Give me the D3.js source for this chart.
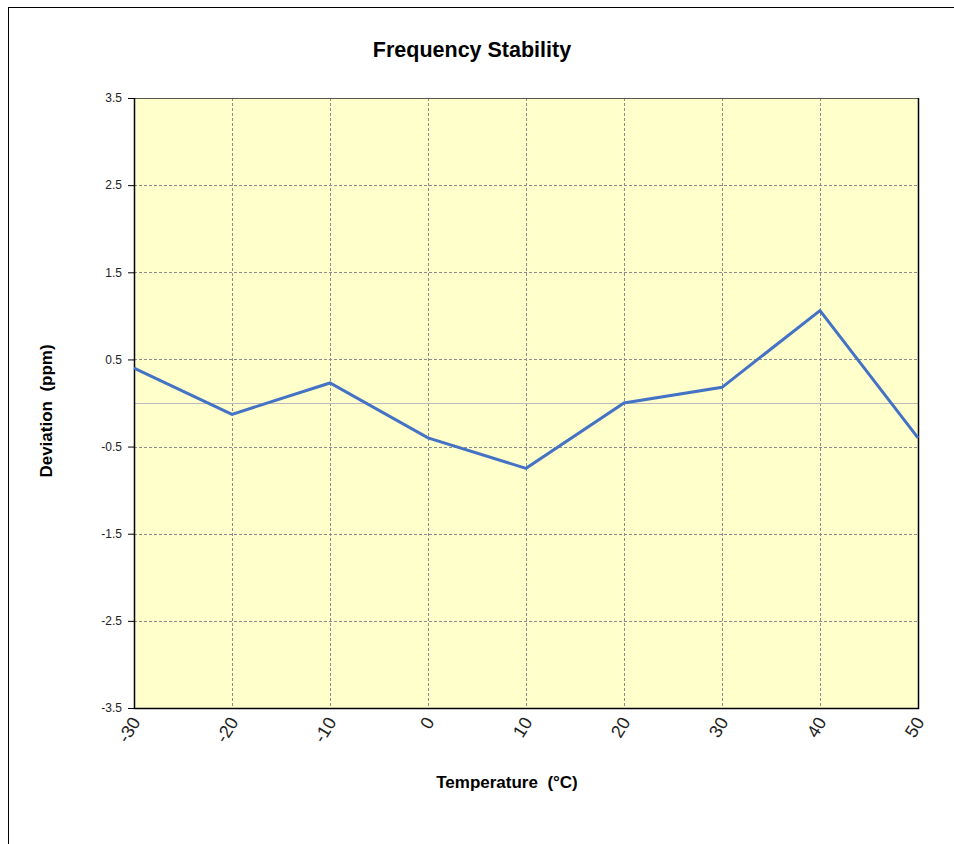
<!DOCTYPE html>
<html lang="en">
<head>
  <meta charset="UTF-8">
  <title>Frequency Stability</title>
  <script src="https://d3js.org/d3.v7.min.js"></script>
  <style>
    body { margin: 0; background: #fff; font-family: "Liberation Sans", Arial, sans-serif; }
    text { white-space: pre; }
  </style>
</head>
<body>
  <svg width="954" height="844"></svg>
  <script>
    // temperature points (°C) and measured deviation (ppm)
    const temps = [-30, -20, -10, 0, 10, 20, 30, 40, 50];
    const deviation = [0.40, -0.13, 0.23, -0.40, -0.75, 0.0, 0.18, 1.06, -0.40];
    const yTicks = [-3.5, -2.5, -1.5, -0.5, 0.5, 1.5, 2.5, 3.5];

    const svg = d3.select("svg");
    const plotL = 134, plotR = 918, plotT = 98, plotB = 708;

    const x = d3.scaleLinear().domain([-30, 50]).range([plotL, plotR]);
    const y = d3.scaleLinear().domain([-3.5, 3.5]).range([plotB, plotT]);

    // outer chart frame
    svg.append("rect")
      .attr("x", 8.5).attr("y", 7.5)
      .attr("width", 960).attr("height", 860)
      .attr("fill", "none").attr("stroke", "#000").attr("stroke-width", 1);

    svg.append("rect")
      .attr("x", plotL).attr("y", plotT)
      .attr("width", plotR - plotL).attr("height", plotB - plotT)
      .attr("fill", "#ffffcc");

    // grid
    svg.append("g").selectAll("line")
      .data(temps.slice(1, -1))
      .join("line")
      .attr("x1", d => Math.round(x(d)) + 0.5).attr("x2", d => Math.round(x(d)) + 0.5)
      .attr("y1", plotT).attr("y2", plotB)
      .attr("stroke", "#8c8c8c").attr("stroke-dasharray", "3,2");

    svg.append("g").selectAll("line")
      .data(yTicks.slice(1, -1))
      .join("line")
      .attr("x1", plotL).attr("x2", plotR)
      .attr("y1", d => Math.round(y(d)) + 0.5).attr("y2", d => Math.round(y(d)) + 0.5)
      .attr("stroke", "#8c8c8c").attr("stroke-dasharray", "3,2");

    // zero line
    svg.append("line")
      .attr("x1", plotL).attr("x2", plotR)
      .attr("y1", Math.round(y(0)) + 0.5).attr("y2", Math.round(y(0)) + 0.5)
      .attr("stroke", "#bcbcbc").attr("stroke-width", 1);

    // plot border
    svg.append("line").attr("x1", plotL).attr("x2", plotR).attr("y1", plotT + 0.5).attr("y2", plotT + 0.5)
      .attr("stroke", "#555");
    svg.append("path")
      .attr("d", `M${plotL + 0.5},${plotT} V${plotB + 0.5} H${plotR + 0.5} V${plotT}`)
      .attr("fill", "none").attr("stroke", "#000").attr("stroke-width", 1.5);

    // y axis
    const yAxis = svg.append("g")
      .attr("transform", `translate(${plotL},0)`)
      .call(d3.axisLeft(y).tickValues(yTicks).tickSize(6).tickFormat(d => d.toFixed(1)));
    yAxis.select(".domain").remove();
    yAxis.selectAll(".tick line").attr("stroke", "#000");
    yAxis.selectAll("text")
      .attr("font-family", "Liberation Sans, Arial, sans-serif")
      .attr("font-size", 12).attr("fill", "#222").attr("x", -12);

    // x axis labels
    svg.append("g").selectAll("text")
      .data(temps)
      .join("text")
      .attr("transform", d => `translate(${x(d) + 7},${plotB + 14}) rotate(-58)`)
      .attr("text-anchor", "end")
      .attr("font-size", 18).attr("fill", "#222")
      .text(d => d);

    // series
    svg.append("path")
      .datum(temps.map((t, i) => [t, deviation[i]]))
      .attr("d", d3.line().x(d => x(d[0])).y(d => y(d[1])))
      .attr("fill", "none").attr("stroke", "#4472c4").attr("stroke-width", 3)
      .attr("stroke-linejoin", "miter");

    // titles
    svg.append("text")
      .attr("x", 472).attr("y", 57)
      .attr("text-anchor", "middle").attr("font-size", 21.5).attr("font-weight", "bold")
      .text("Frequency Stability");

    svg.append("text")
      .attr("x", 507).attr("y", 788)
      .attr("text-anchor", "middle").attr("font-size", 17).attr("font-weight", "bold")
      .text("Temperature  (°C)");

    svg.append("text")
      .attr("transform", "translate(52,411) rotate(-90)")
      .attr("text-anchor", "middle").attr("font-size", 17).attr("font-weight", "bold")
      .text("Deviation  (ppm)");
  </script>
</body>
</html>
